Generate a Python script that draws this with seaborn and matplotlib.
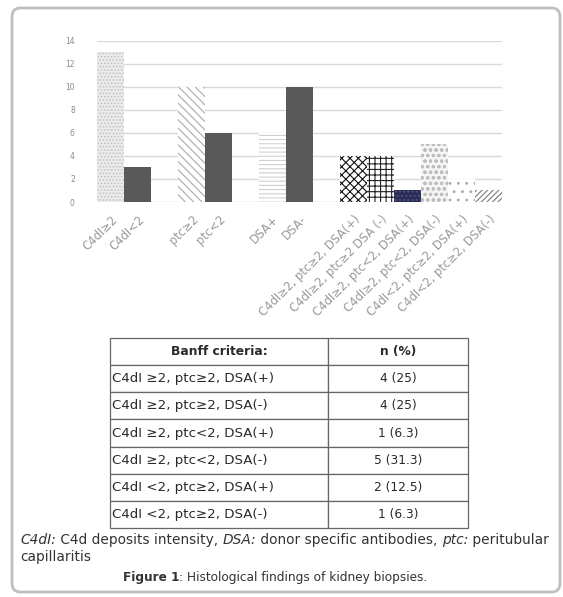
import numpy as np
import pandas as pd
import matplotlib
matplotlib.use('Agg')
import matplotlib.pyplot as plt
import seaborn as sns
from matplotlib.patches import FancyBboxPatch

# ==================== data ====================
bar_labels = ['C4dI≥2', 'C4dI<2', 'ptc≥2', 'ptc<2', 'DSA+', 'DSA-',
              'C4dI≥2, ptc≥2, DSA(+)', 'C4dI≥2, ptc≥2 DSA (-)',
              'C4dI≥2, ptc<2, DSA(+)', 'C4dI≥2, ptc<2, DSA(-)',
              'C4dI<2, ptc≥2, DSA(+)', 'C4dI<2, ptc≥2, DSA(-)']
bar_values = [13, 3, 10, 6, 6, 10, 4, 4, 1, 5, 2, 1]
y_ticks = [0, 2, 4, 6, 8, 10, 12, 14]

table_header = ['Banff criteria:', 'n (%)']
table_criteria = ['C4dI ≥2, ptc≥2, DSA(+)', 'C4dI ≥2, ptc≥2, DSA(-)',
                  'C4dI ≥2, ptc<2, DSA(+)', 'C4dI ≥2, ptc<2, DSA(-)',
                  'C4dI <2, ptc≥2, DSA(+)', 'C4dI <2, ptc≥2, DSA(-)']
table_n = ['4 (25)', '4 (25)', '1 (6.3)', '5 (31.3)', '2 (12.5)', '1 (6.3)']

# blank slots between groups
order = bar_labels[0:2] + [' '] + bar_labels[2:4] + ['  '] + bar_labels[4:6] + ['   '] + bar_labels[6:]

# slot index -> (face, hatch, hatch colour)
styles = {
    0: ('#ececec', '.....', '#c2c2c2'),
    1: ('#595959', None, '#595959'),
    3: ('white', '\\\\\\\\', '#aaaaaa'),
    4: ('#595959', None, '#595959'),
    6: ('white', '----', '#cfcfcf'),
    7: ('#595959', None, '#595959'),
    9: ('white', 'xxxx', '#111111'),
    10: ('white', '+++', '#222222'),
    11: ('#2b2d58', '....', '#55577e'),
    12: ('#f5f5f5', 'ooo', '#bdbdbd'),
    13: ('white', '..', '#a8a8a8'),
    14: ('white', '//////', '#7a7a7a'),
}

sns.set_style('white')
plt.rcParams['font.family'] = ['DejaVu Sans']
plt.rcParams['hatch.linewidth'] = 0.8

W, H = 563, 597
fig = plt.figure(figsize=(W / 100, H / 100), dpi=100)

# rounded frame
frame = FancyBboxPatch((12 / W, 1 - 592 / H), 548 / W, 584 / H,
                       boxstyle='round,pad=0,rounding_size=0.015',
                       transform=fig.transFigure, fill=False,
                       edgecolor='#bfbfbf', lw=2)
fig.patches.append(frame)

# ==================== bar chart ====================
ax = fig.add_axes([97 / W, 1 - 202 / H, 405 / W, 161.3 / H])
df = pd.DataFrame({'label': bar_labels, 'value': bar_values})
sns.barplot(data=df, x='label', y='value', order=order, color='#595959',
            width=0.97, ax=ax, saturation=1)

for p in ax.patches:
    slot = int(round(p.get_x() + p.get_width() / 2))
    face, hatch, hc = styles[slot]
    p.set_facecolor(face)
    p.set_edgecolor(hc)
    p.set_linewidth(0)
    if hatch:
        p.set_hatch(hatch)

ax.set_xlim(-0.5, len(order) - 0.5)
ax.set_ylim(0, 14)
ax.set_yticks(y_ticks)
ax.set_yticklabels([str(t) for t in y_ticks], fontsize=5.5, color='#8a8a8a')
ax.tick_params(axis='y', length=0, pad=16)
ax.tick_params(axis='x', length=0, pad=8)
ax.yaxis.grid(True, color='#d9d9d9', lw=1)
ax.set_axisbelow(True)
for s in ax.spines.values():
    s.set_visible(False)
ax.set_xlabel('')
ax.set_ylabel('')
ax.set_xticks(range(len(order)))
ax.set_xticklabels(order, rotation=45, ha='right', rotation_mode='anchor',
                   fontsize=8.4, color='#999999')

# ==================== table ====================
ax_t = fig.add_axes([110 / W, 1 - 528 / H, 358 / W, 190 / H])
ax_t.axis('off')
cells = [[c, n] for c, n in zip(table_criteria, table_n)]
tbl = ax_t.table(cellText=cells, colLabels=table_header, bbox=[0, 0, 1, 1],
                 colWidths=[0.61, 0.39], cellLoc='center')
tbl.auto_set_font_size(False)
for (r, c), cell in tbl.get_celld().items():
    cell.set_edgecolor('#666666')
    cell.set_linewidth(0.9)
    cell.get_text().set_fontsize(8.8)
    cell.get_text().set_color('#2a2a2a')
    if r == 0:
        cell.get_text().set_fontweight('bold')
    elif c == 0:
        cell.get_text().set_fontsize(9.6)
        cell.get_text().set_ha('left')
        cell.PAD = 0.01

# ==================== captions ====================
fig.canvas.draw()
renderer = fig.canvas.get_renderer()


def chain(parts, x, y, fs, color='#333333'):
    for txt, style, weight in parts:
        t = fig.text(x / W, 1 - y / H, txt, fontsize=fs, style=style,
                     fontweight=weight, color=color, va='center', ha='left')
        bb = t.get_window_extent(renderer=renderer)
        x += bb.width


chain([('C4dI:', 'italic', 'normal'),
       (' C4d deposits intensity, ', 'normal', 'normal'),
       ('DSA:', 'italic', 'normal'),
       (' donor specific antibodies, ', 'normal', 'normal'),
       ('ptc:', 'italic', 'normal'),
       (' peritubular', 'normal', 'normal')], 20, 540, 9.9)
fig.text(20 / W, 1 - 557 / H, 'capillaritis', fontsize=9.9, color='#333333',
         va='center', ha='left')

fig_parts = [('Figure 1', 'normal', 'bold'),
             (': Histological findings of kidney biopsies.', 'normal', 'normal')]
tot = 0
for txt, style, weight in fig_parts:
    t = fig.text(0, 0, txt, fontsize=8.7, style=style, fontweight=weight)
    tot += t.get_window_extent(renderer=renderer).width
    t.remove()
chain(fig_parts, 275 - tot / 2, 578, 8.7)

fig.savefig('out.png', dpi=100)
